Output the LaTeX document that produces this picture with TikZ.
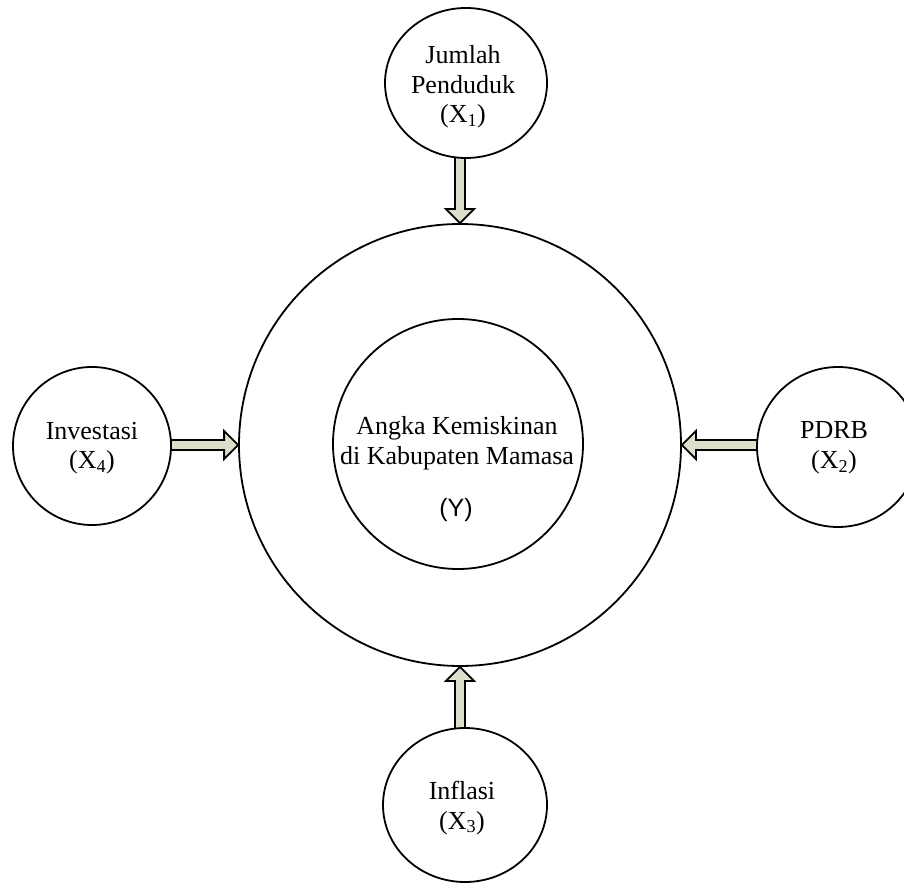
\documentclass[tikz,border=0pt]{standalone}
\usepackage{fontspec}
\setmainfont{Liberation Serif}
\newfontfamily\arialfont{Liberation Sans}
\usetikzlibrary{calc,shapes.geometric,backgrounds}
\definecolor{arrowfill}{RGB}{220,223,204}
\tikzset{
  ring/.style={draw=black, line width=1.8pt, fill=white, inner sep=0pt},
  lbl/.style={align=center, font=\fontsize{26}{29.5}\selectfont, inner sep=0pt},
  barrow/.style={draw=black, line width=1.8pt, fill=arrowfill, line join=miter},
}
\begin{document}
\begin{tikzpicture}[x=1pt,y=1pt]
\useasboundingbox (0,0) rectangle (904,884);
% central circles
\node[ring, circle, minimum size=442pt] (Yc) at (460,439) {};
\node[ring, circle, minimum size=250pt] (Yi) at (458,440) {};
% outer variables
\node[ring, ellipse, minimum width=162pt, minimum height=150pt] (X1c) at (466,801) {};
\node[ring, ellipse, minimum width=158pt, minimum height=158pt] (X4c) at (92,438) {};
\node[ring, ellipse, minimum width=162pt, minimum height=160pt] (X2c) at (838,437) {};
\node[ring, ellipse, minimum width=164pt, minimum height=154pt] (X3c) at (465,79) {};
% texts
\node[lbl] (X1t) at (463,797) {Jumlah\\Penduduk\\(X\textsubscript{1})};
\node[lbl] (X4t) at (92,436) {Investasi\\(X\textsubscript{4})};
\node[lbl] (X2t) at (834,436) {PDRB\\(X\textsubscript{2})};
\node[lbl] (X3t) at (462,76) {Inflasi\\(X\textsubscript{3})};
\node[lbl] (Yt) at (457,441) {Angka Kemiskinan\\di Kabupaten Mamasa};
\node[lbl, font=\arialfont\fontsize{25}{29}\selectfont] (Ylab) at (456,374) {(Y)};
% block arrows
\begin{scope}[on background layer]
\draw[barrow] let \p1=(X1c.south), \p2=(Yc.north) in
  (\x2-5pt,\y1+4pt) -- (\x2-5pt,\y2+14pt) -- (\x2-14pt,\y2+14pt) -- (\p2)
  -- (\x2+14pt,\y2+14pt) -- (\x2+5pt,\y2+14pt) -- (\x2+5pt,\y1+4pt) -- cycle;
\draw[barrow] let \p1=(X3c.north), \p2=(Yc.south) in
  (\x2-5pt,\y1-4pt) -- (\x2-5pt,\y2-14pt) -- (\x2-14pt,\y2-14pt) -- (\p2)
  -- (\x2+14pt,\y2-14pt) -- (\x2+5pt,\y2-14pt) -- (\x2+5pt,\y1-4pt) -- cycle;
\draw[barrow] let \p1=(X4c.east), \p2=(Yc.west) in
  (\x1-4pt,\y2-5pt) -- (\x2-14pt,\y2-5pt) -- (\x2-14pt,\y2-14pt) -- (\p2)
  -- (\x2-14pt,\y2+14pt) -- (\x2-14pt,\y2+5pt) -- (\x1-4pt,\y2+5pt) -- cycle;
\draw[barrow] let \p1=(X2c.west), \p2=(Yc.east) in
  (\x1+4pt,\y2-5pt) -- (\x2+14pt,\y2-5pt) -- (\x2+14pt,\y2-14pt) -- (\p2)
  -- (\x2+14pt,\y2+14pt) -- (\x2+14pt,\y2+5pt) -- (\x1+4pt,\y2+5pt) -- cycle;
\end{scope}
\end{tikzpicture}
\end{document}
